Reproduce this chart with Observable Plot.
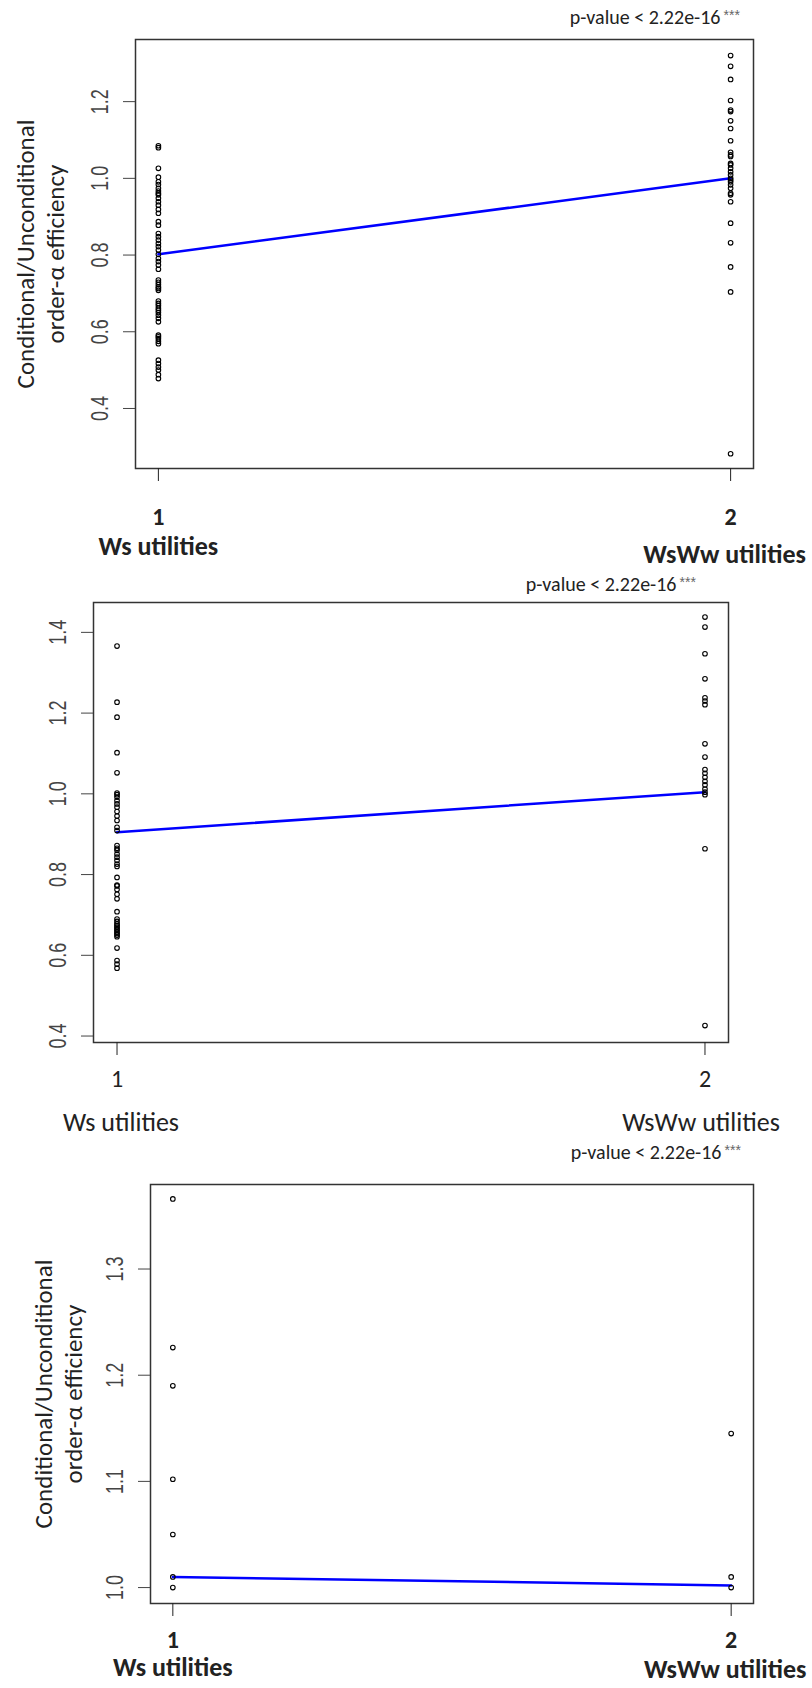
<!DOCTYPE html>
<html><head><meta charset="utf-8">
<script src="https://cdn.jsdelivr.net/npm/d3@7"></script>
<script src="https://cdn.jsdelivr.net/npm/@observablehq/plot@0.6"></script>
<style>
html,body{margin:0;padding:0;background:#fff;}
#chart{width:812px;}
#chart svg{display:block;}
</style></head><body><div id="chart"></div>
<script>
// ---------- data ----------
const groups = [1, 2];
const groupNames = ["Ws utilities", "WsWw utilities"];
const pLabel = "p-value < 2.22e-16";
const pStars = "***";
const yTitle = "Conditional/Unconditional\norder-α efficiency";

// panel 1
const p1Ws = [1.085, 1.080, 1.026, 1.003, 0.991, 0.984, 0.974, 0.967, 0.961, 0.957, 0.948, 0.939, 0.930, 0.919, 0.909, 0.887, 0.878, 0.856, 0.848, 0.839, 0.830, 0.822, 0.813, 0.802, 0.791, 0.783, 0.774, 0.763, 0.735, 0.729, 0.723, 0.717, 0.713, 0.708, 0.680, 0.674, 0.668, 0.661, 0.656, 0.650, 0.643, 0.635, 0.626, 0.591, 0.587, 0.582, 0.575, 0.569, 0.526, 0.517, 0.508, 0.500, 0.488, 0.478];
const p1WsWw = [1.320, 1.292, 1.258, 1.203, 1.178, 1.174, 1.150, 1.130, 1.098, 1.068, 1.061, 1.057, 1.039, 1.035, 1.026, 1.017, 1.009, 1.000, 0.996, 0.991, 0.983, 0.974, 0.961, 0.957, 0.939, 0.883, 0.832, 0.769, 0.704, 0.282];
const p1Means = [0.802, 1.000];
const p1Ticks = [0.4, 0.6, 0.8, 1.0, 1.2];

// panel 2
const p2Ws = [1.366, 1.227, 1.190, 1.102, 1.052, 1.002, 0.998, 0.992, 0.983, 0.975, 0.967, 0.956, 0.945, 0.934, 0.917, 0.909, 0.872, 0.865, 0.860, 0.851, 0.843, 0.835, 0.826, 0.820, 0.793, 0.774, 0.772, 0.763, 0.751, 0.740, 0.708, 0.690, 0.684, 0.678, 0.674, 0.670, 0.666, 0.662, 0.658, 0.654, 0.650, 0.646, 0.618, 0.587, 0.578, 0.568];
const p2WsWw = [1.438, 1.413, 1.347, 1.285, 1.238, 1.230, 1.221, 1.124, 1.091, 1.060, 1.051, 1.041, 1.031, 1.022, 1.012, 1.004, 0.998, 0.864, 0.426];
const p2Means = [0.905, 1.004];
const p2Ticks = [0.4, 0.6, 0.8, 1.0, 1.2, 1.4];

// panel 3
const p3Ws = [1.366, 1.226, 1.190, 1.102, 1.050, 1.010, 1.000];
const p3WsWw = [1.145, 1.010, 1.000];
const p3Means = [1.010, 1.002];
const p3Ticks = [1.0, 1.1, 1.2, 1.3];

// ---------- layout ----------
const calibriLike = "Carlito, Calibri, Lato, 'Open Sans', sans-serif";
const arialLike = "'Liberation Sans', Arial, sans-serif";

const panels = [
  {ws: p1Ws, wsww: p1WsWw, means: p1Means, ticks: p1Ticks,
   height: 565, mt: 39, mb: 97, ml: 135, mr: 59, yDomain: [0.2435, 1.362],
   title: true, titleDx: -96, labelWeight: 600,
   numPad: 26, nameDy: [78, 86], nameDx: [0, -6], pDx: -33, pDy: -16},
  {ws: p2Ws, wsww: p2WsWw, means: p2Means, ticks: p2Ticks,
   height: 575, mt: 37, mb: 98, ml: 93, mr: 84, yDomain: [0.384, 1.474],
   title: false, labelWeight: 400,
   numPad: 14, nameDy: [80, 80], nameDx: [4, -4], pDx: -52, pDy: -12},
  {ws: p3Ws, wsww: p3WsWw, means: p3Means, ticks: p3Ticks,
   height: 548, mt: 44, mb: 85, ml: 150, mr: 59, yDomain: [0.985, 1.3796],
   title: true, titleDx: -93, labelWeight: 700,
   numPad: 14, nameDy: [64, 66], nameDx: [0, -6], pDx: -32, pDy: -26}
];

function makePanel(c) {
  const pts = [...c.ws.map(v => ({g: 1, v})), ...c.wsww.map(v => ({g: 2, v}))];
  const means = groups.map((g, i) => ({g, v: c.means[i]}));
  const names = groups.map((g, i) => ({g, name: groupNames[i]}));
  const marks = [
    Plot.frame({stroke: "#333", strokeWidth: 1.5}),
    Plot.axisY(c.ticks, {tickSize: 12, tickRotate: -90, tickPadding: 16, label: null,
      tickFormat: d3.format(".1f"), fontSize: 18, fontFamily: arialLike, color: "#444"}),
    Plot.axisX(groups, {tickSize: 13, tickPadding: c.numPad, label: null, tickFormat: d => String(d),
      fontSize: 24, fontFamily: calibriLike, fontWeight: c.labelWeight, color: "#222"}),
    Plot.text(names.filter(d => d.g === 1), {x: "g", text: "name", frameAnchor: "bottom", dy: c.nameDy[0], dx: c.nameDx[0],
      lineAnchor: "middle", fontSize: 26, fontFamily: calibriLike, fontWeight: c.labelWeight, fill: "#222"}),
    Plot.text(names.filter(d => d.g === 2), {x: "g", text: "name", frameAnchor: "bottom", dy: c.nameDy[1], dx: c.nameDx[1],
      lineAnchor: "middle", fontSize: 26, fontFamily: calibriLike, fontWeight: c.labelWeight, fill: "#222"}),
    Plot.line(means, {x: "g", y: "v", stroke: "#0000ff", strokeWidth: 2.5}),
    Plot.dot(pts, {x: "g", y: "v", r: 2.3, stroke: "#000", strokeWidth: 1.1, fill: "none"}),
    Plot.text([pLabel], {text: d => d, frameAnchor: "top-right", textAnchor: "end", lineAnchor: "bottom",
      dx: c.pDx, dy: c.pDy, fontSize: 20, fontFamily: calibriLike, fill: "#222"}),
    Plot.text([pStars], {text: d => d, frameAnchor: "top-right", textAnchor: "start", lineAnchor: "bottom",
      dx: c.pDx + 3, dy: c.pDy - 4, fontSize: 14, fontFamily: arialLike, fill: "#666"})
  ];
  if (c.title) {
    marks.push(Plot.text([yTitle], {text: d => d, frameAnchor: "left", rotate: -90, textAnchor: "middle",
      lineAnchor: "middle", lineHeight: 1.2, dx: c.titleDx, fontSize: 25, fontFamily: calibriLike, fill: "#222"}));
  }
  const svg = Plot.plot({
    width: 812, height: c.height,
    marginTop: c.mt, marginBottom: c.mb, marginLeft: c.ml, marginRight: c.mr,
    x: {domain: [0.96, 2.04], axis: null},
    y: {domain: c.yDomain, axis: null},
    style: {background: "white", overflow: "visible"},
    marks
  });
  // R-style tick labels are slightly widened glyphs
  svg.querySelectorAll('g[aria-label="y-axis tick label"] text').forEach(t => {
    const tr = t.getAttribute("transform") || "";
    t.setAttribute("transform", tr + " scale(1,1.3)");
  });
  return svg;
}

const root = document.getElementById("chart");
panels.forEach(c => root.appendChild(makePanel(c)));
</script>
</body></html>
